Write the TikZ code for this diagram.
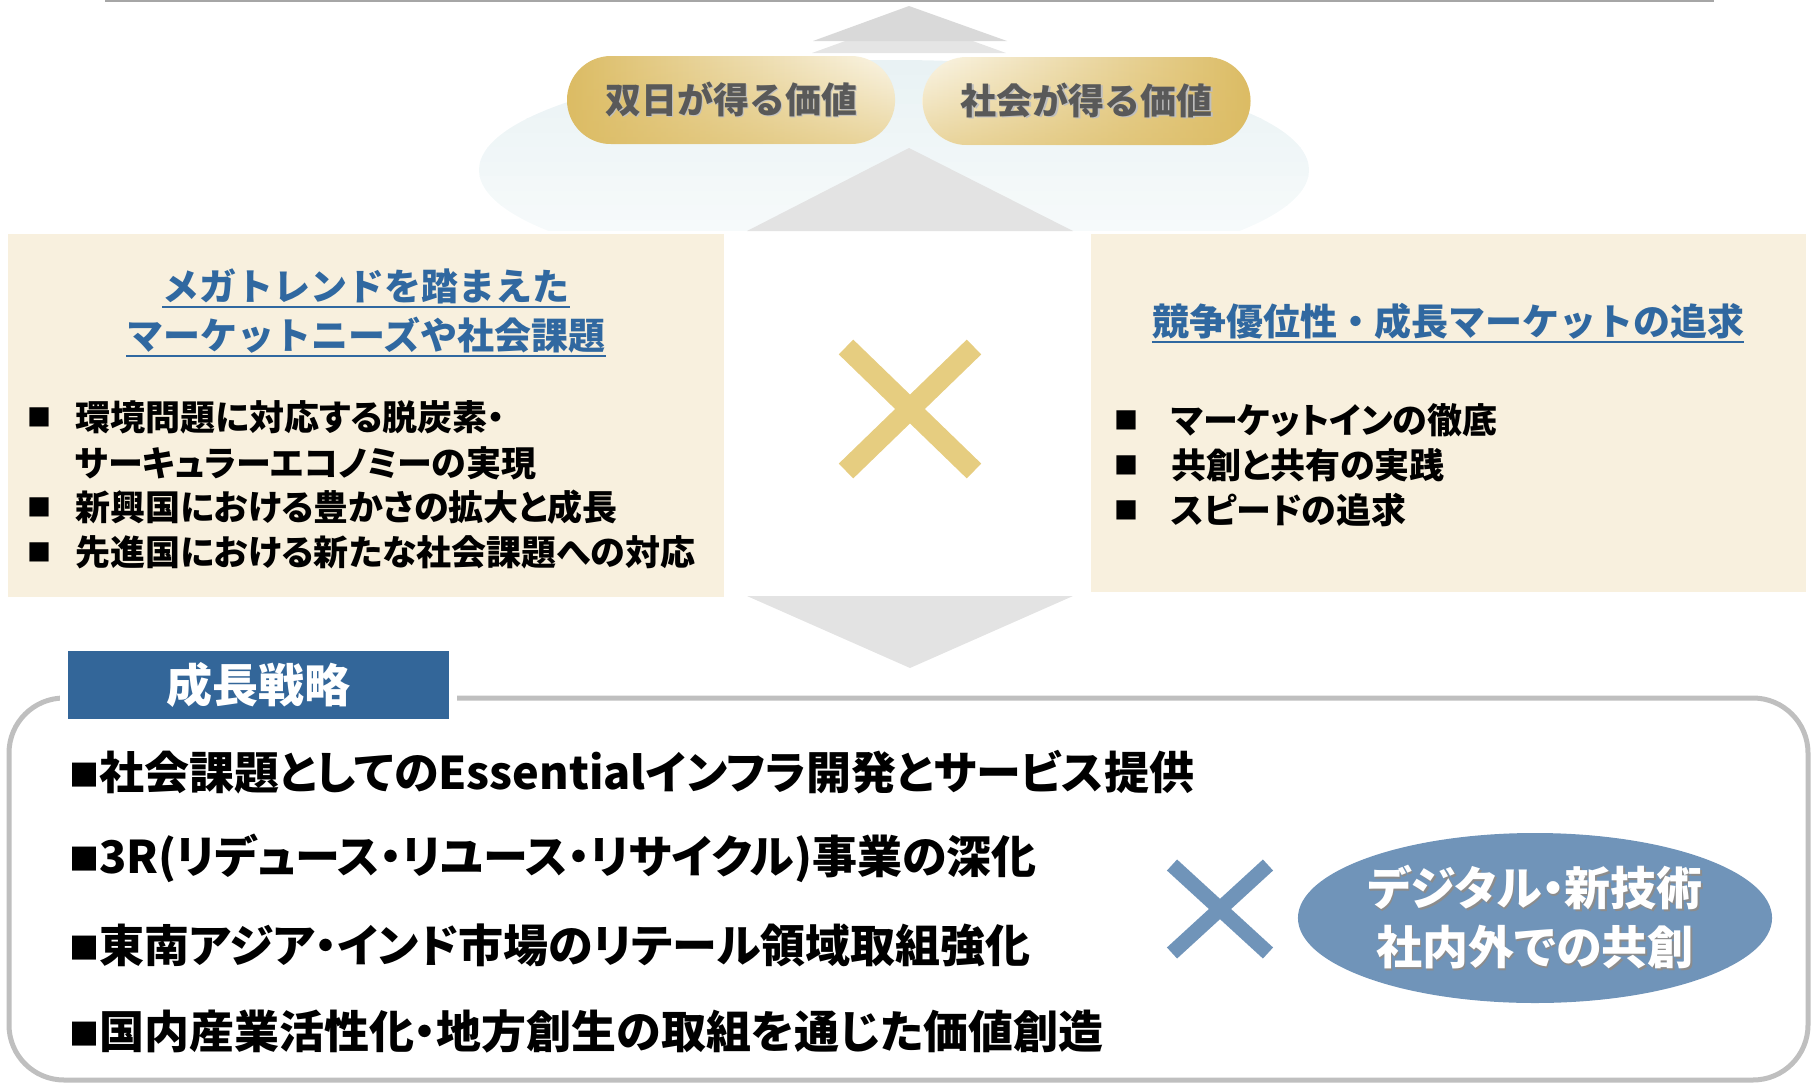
\documentclass[tikz,border=0pt]{standalone}
\usepackage{fontspec}
\setmainfont{Noto Sans CJK JP}
\newfontfamily\jpp{Noto Sans CJK JP}[RawFeature=+palt]
\usetikzlibrary{shapes.misc,shapes.geometric,fadings}

\definecolor{goldD}{HTML}{DCBC64}
\definecolor{goldL}{HTML}{FBF6E8}
\definecolor{pilltext}{HTML}{595959}
\definecolor{cream}{HTML}{F8F0DE}
\definecolor{navy}{HTML}{336699}
\definecolor{titleblue}{HTML}{3068A0}
\definecolor{steel}{HTML}{7094B9}
\definecolor{xgold}{HTML}{E6CD80}
\definecolor{framegray}{HTML}{BFBFBF}
\definecolor{haze}{HTML}{E9F2F4}

% text with a soft drop shadow
\newcommand\shadowed[2]{\rlap{\color{#1}\raisebox{-1.5pt}{\hspace*{1.5pt}#2}}#2}
\newcommand\sqb{{\fontsize{30}{30}\selectfont\raisebox{3pt}{■}}}

\begin{document}
\begin{tikzpicture}[x=1pt,y=-1pt,
    pill/.style={rounded rectangle, minimum width=328pt, minimum height=88pt, inner sep=0pt,
      font=\fontsize{36}{40}\selectfont\bfseries, text=pilltext,
      postaction={fill=goldD, path fading=north, fill opacity=0.55}},
    cbox/.style={fill=cream, inner sep=0pt},
    ttl/.style={font=\fontsize{37}{42}\selectfont\bfseries, text=titleblue, inner sep=0pt},
    uline/.style={titleblue, line width=2pt},
    item/.style={font=\jpp\fontsize{35}{38}\selectfont\bfseries, anchor=west, inner sep=0pt},
    bulleted/.style={label={[font=\fontsize{24}{24}\selectfont, inner sep=0pt, label distance=#1]left:■}},
    chev/.style={fill=black!11},
    hdr/.style={fill=navy, draw=white, line width=8pt, minimum width=389pt, minimum height=76pt,
      inner sep=0pt, text=white, font=\fontsize{46}{50}\selectfont\bfseries},
    strat/.style={font=\jpp\fontsize{45}{50}\selectfont\bfseries, anchor=west, inner sep=0pt},
    oval/.style={ellipse, fill=steel, minimum width=464pt, minimum height=170pt, inner sep=0pt,
      text=white, align=center, font=\jpp\fontsize{46}{59}\selectfont\bfseries}]
  \useasboundingbox (0,0) rectangle (1812,1084);

  % top rule and background haze
  \draw[black!35, line width=2pt] (105,1) -- (1714,1);
  \begin{scope}
    \clip (894,170) ellipse [x radius=415pt, y radius=110pt];
    \foreach \i [evaluate=\i as \k using int(100-5.5*\i)] in {0,...,11}
      \fill[haze!\k!white] (470,{60+14.5*\i}) rectangle (1320,{min(231,75+14.5*\i)});
  \end{scope}

  % upward chevrons
  \fill[fill=black!10] (909,18) -- (1006,53) -- (812,53) -- cycle;
  \fill[fill=black!15] (909,6) -- (1007,41) -- (813,41) -- cycle;
  \fill[fill=black!11] (909,148) -- (1073,231) -- (747,231) -- cycle;

  % values
  \node[pill, left color=goldD, right color=goldL] (ownval) at (731,100)
    {\shadowed{black!25}{双日が得る価値}};
  \node[pill, left color=goldL, right color=goldD] (socval) at (1086.5,101)
    {\shadowed{black!25}{社会が得る価値}};

  % the two boxes
  \node[cbox, minimum width=716pt, minimum height=363pt] (needs) at (366,415.5) {};
  \node[cbox, minimum width=715pt, minimum height=358pt] (edge) at (1448.5,413) {};

  \node[ttl] (ltA) at (366,286) {メガトレンドを踏まえた};
  \node[ttl] (ltB) at (366,335) {マーケットニーズや社会課題};
  \draw[uline] ([yshift=-3pt]ltA.south west) -- ([yshift=-3pt]ltA.south east);
  \draw[uline] ([yshift=-3pt]ltB.south west) -- ([yshift=-3pt]ltB.south east);

  \node[item, bulleted=23pt] (n1) at (75,417) {環境問題に対応する脱炭素・};
  \node[item] (n1b) at (75,463) {サーキュラーエコノミーの実現};
  \node[item, bulleted=23pt] (n2) at (75,507) {新興国における豊かさの拡大と成長};
  \node[item, bulleted=23pt] (n3) at (75,552) {先進国における新たな社会課題への対応};

  \node[ttl] (rt) at (1448,321) {競争優位性・成長マーケットの追求};
  \draw[uline] ([yshift=-3pt]rt.south west) -- ([yshift=-3pt]rt.south east);

  \node[item, bulleted=32pt] (c1) at (1171,420) {マーケットインの徹底};
  \node[item, bulleted=32pt] (c2) at (1171,465) {共創と共有の実践};
  \node[item, bulleted=32pt] (c3) at (1171,510) {スピードの追求};

  % gold cross
  \draw[xgold, line width=20.7pt] (846,347) -- (974,471);
  \draw[xgold, line width=20.7pt] (974,347) -- (846,471);

  % downward chevron
  \fill[chev] (747,596) -- (1073,596) -- (910,668) -- cycle;

  % growth strategy frame
  \draw[framegray, line width=5pt, rounded corners=55pt] (9,698) rectangle (1808,1080);
  \node[hdr] (strat) at (258.5,685) {成長戦略};

  \node[strat] (s1) at (69,772) {\sqb 社会課題としてのEssentialインフラ開発とサービス提供};
  \node[strat] (s2) at (69,858) {\sqb 3R(リデュース・リユース・リサイクル)事業の深化};
  \node[strat] (s3) at (69,945) {\sqb 東南アジア・インド市場のリテール領域取組強化};
  \node[strat] (s4) at (69,1031) {\sqb 国内産業活性化・地方創生の取組を通じた価値創造};

  % blue cross and co-creation
  \draw[steel, line width=15pt] (1172,865) -- (1268,953);
  \draw[steel, line width=15pt] (1268,865) -- (1172,953);
  \node[oval] (dx) at (1535,918)
    {\shadowed{black!45}{デジタル・新技術}\\\shadowed{black!45}{社内外での共創}};
\end{tikzpicture}
\end{document}
